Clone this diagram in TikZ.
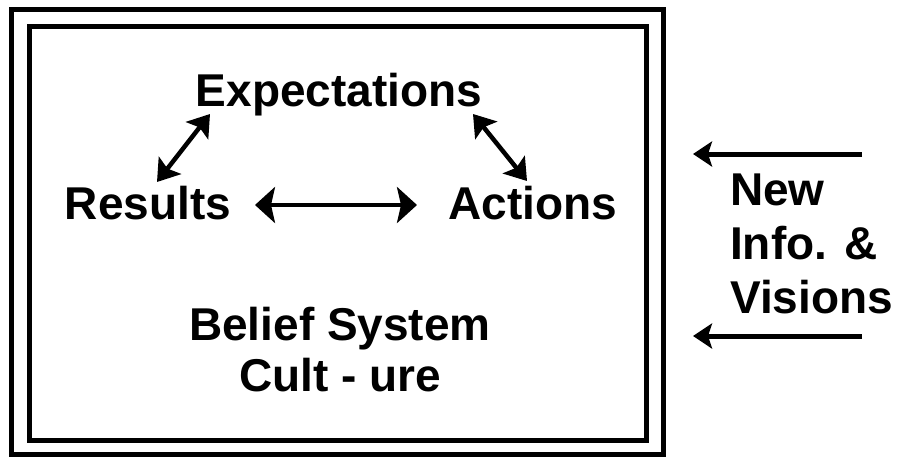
\documentclass[tikz,border=0pt]{standalone}
\usepackage{fontspec}
\setmainfont{Liberation Sans}
\usetikzlibrary{arrows.meta}
\begin{document}
\begin{tikzpicture}[x=1pt,y=-1pt,
  frame/.style={draw=black,line width=5pt},
  lbl/.style={inner sep=0pt,font=\bfseries\fontsize{46}{51}\selectfont},
  bigarrow/.style={line width=4pt,{Stealth[length=20pt,width=36pt,inset=4pt]}-{Stealth[length=20pt,width=36pt,inset=4pt]}},
  diagarrow/.style={line width=4.5pt,{Stealth[length=21pt,width=28pt,inset=4pt]}-{Stealth[length=21pt,width=28pt,inset=4pt]}},
  inarrow/.style={line width=5pt,-{Stealth[length=19pt,width=25pt,inset=4pt]}}]
\useasboundingbox[fill=white] (0,0) rectangle (906,458);
\draw[frame] (11.5,9.5) rectangle (663.5,454);
\draw[frame] (29.5,26.5) rectangle (646,440);
\node[lbl,anchor=base] (exp) at (339,106.7) {Expectations};
\node[lbl,anchor=base] (res) at (148,219) {Results};
\node[lbl,anchor=base] (act) at (533,219) {Actions};
\node[lbl,anchor=base,align=center] (bel) at (340,391) {Belief System\\Cult - ure};
\node[lbl,anchor=base west,align=left,font=\bfseries\fontsize{46}{54}\selectfont] (new) at (730,313) {New\\Info. \&\\Visions};
\coordinate (ra) at (255,205);
\coordinate (aa) at (417,205);
\coordinate (rd) at (157,182);
\coordinate (ed1) at (210,114);
\coordinate (ed2) at (473,114);
\coordinate (ad) at (527,181);
\coordinate (t1s) at (862,154);
\coordinate (t1e) at (693,154);
\coordinate (t2s) at (862,336);
\coordinate (t2e) at (693,336);
\draw[bigarrow] (ra) -- (aa);
\draw[diagarrow] (rd) -- (ed1);
\draw[diagarrow] (ed2) -- (ad);
\draw[inarrow] (t1s) -- (t1e);
\draw[inarrow] (t2s) -- (t2e);
\end{tikzpicture}
\end{document}
